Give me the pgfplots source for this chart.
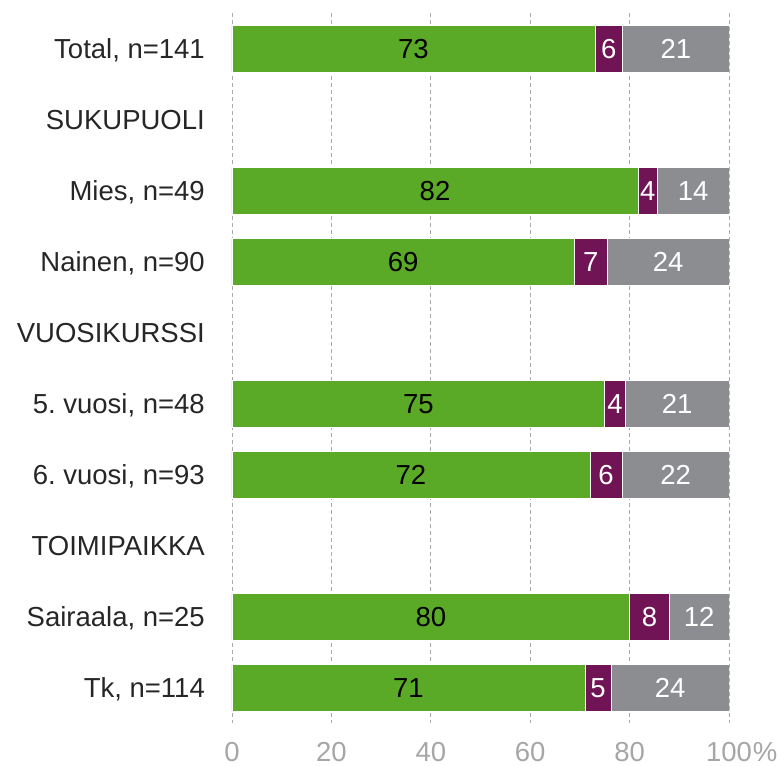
\documentclass[border=0pt]{standalone}
\usepackage{pgfplots}
\pgfplotsset{compat=1.18}
\usepackage{pgfplotstable}
\usepackage{fontspec}
\setmainfont{Liberation Sans}
\definecolor{cgreen}{RGB}{90,170,40}
\definecolor{cpurple}{RGB}{112,20,86}
\definecolor{cgray}{RGB}{140,141,145}
\definecolor{ctext}{RGB}{38,38,38}
\definecolor{ctick}{RGB}{166,166,166}
\definecolor{cgrid}{RGB}{170,170,170}

\pgfplotstableread{
y v l
0 73.0 73
2 81.7 82
3 68.9 69
5 75.0 75
6 72.0 72
8 80.0 80
9 71.0 71
}\tgreen
\pgfplotstableread{
y v l
0 5.6 6
2 3.9 4
3 6.6 7
5 4.1 4
6 6.5 6
8 8.0 8
9 5.3 5
}\tpurple
\pgfplotstableread{
y v l
0 21.4 21
2 14.4 14
3 24.5 24
5 20.9 21
6 21.5 22
8 12.0 12
9 23.7 24
}\tgray

\begin{document}
\frenchspacing
\begin{tikzpicture}
\begin{axis}[
  xbar stacked,
  scale only axis,
  width=497pt, height=710pt,
  xmin=0, xmax=100,
  ymin=-0.5, ymax=9.5,
  y dir=reverse,
  bar width=47pt,
  axis line style={draw=none},
  major tick length=0pt,
  xmajorgrids,
  grid style={cgrid, line width=0.8pt, dash pattern=on 4pt off 3pt},
  xtick={0,20,40,60,80,100},
  xticklabels={0,20,40,60,80,{100\rlap{\hspace{1pt}\%}}},
  xticklabel style={font=\fontsize{27.5}{33}\selectfont, text=ctick, anchor=center, inner sep=0pt, yshift=-29pt},
  ytick={0,...,9},
  yticklabels={{Total, n=141},SUKUPUOLI,{Mies, n=49},{Nainen, n=90},VUOSIKURSSI,{5.\ vuosi, n=48},{6.\ vuosi, n=93},TOIMIPAIKKA,{Sairaala, n=25},{Tk, n=114}},
  yticklabel style={font=\fontsize{27.5}{33}\selectfont, text=ctext, anchor=base east, inner sep=0pt, xshift=-27pt, yshift=-9.8pt},
  point meta=explicit symbolic,
  nodes near coords={\pgfplotspointmeta},
  every node near coord/.append style={anchor=base, inner sep=0pt, font=\fontsize{27.5}{33}\selectfont, yshift=-9.8pt},
]
\addplot[fill=cgreen, draw=white, line width=0.6pt, nodes near coords style={text=black}] table[x=v, y=y, meta=l] {\tgreen};
\addplot[fill=cpurple, draw=white, line width=0.6pt, nodes near coords style={text=white}] table[x=v, y=y, meta=l] {\tpurple};
\addplot[fill=cgray, draw=white, line width=0.6pt, nodes near coords style={text=white}] table[x=v, y=y, meta=l] {\tgray};
\coordinate (bl) at (rel axis cs:0,0);
\coordinate (tr) at (rel axis cs:1,1);
\end{axis}
\pgfresetboundingbox
\path[use as bounding box] ([shift={(-232pt,-43pt)}]bl) rectangle ([shift={(50pt,13pt)}]tr);
\end{tikzpicture}
\end{document}
